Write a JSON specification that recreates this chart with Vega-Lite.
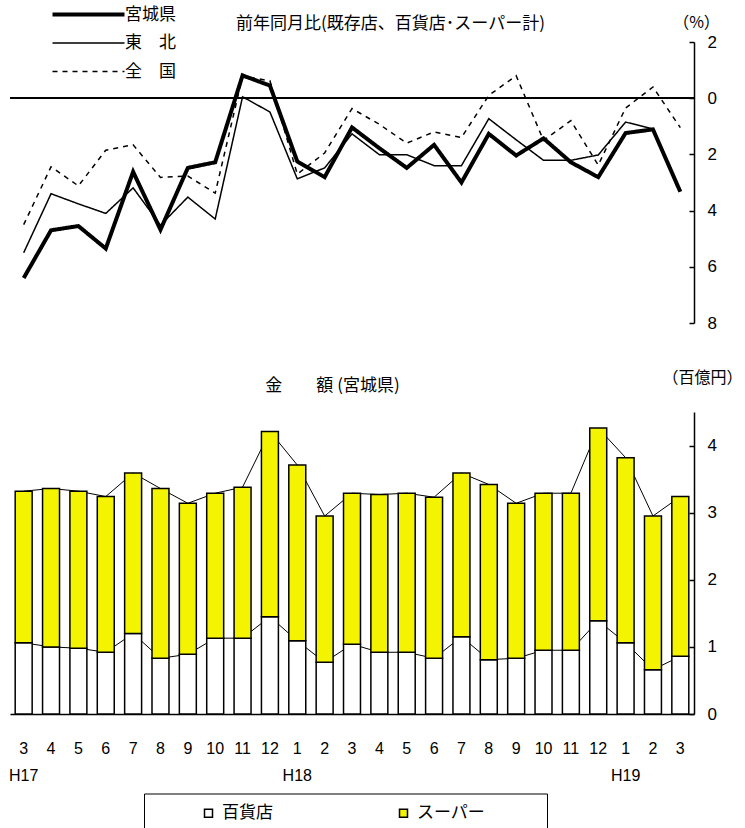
{
  "$schema": "https://vega.github.io/schema/vega-lite/v6.json",
  "padding": {"left": 8, "top": 6, "right": 0, "bottom": 0},
  "background": "white",
  "datasets": {
    "d": [
      {"k": "H17-03", "宮城県": -6.40, "東北": -5.50, "全国": -4.50, "dept": 1.06, "total": 3.32},
      {"k": "H17-04", "宮城県": -4.70, "東北": -3.40, "全国": -2.44, "dept": 1.00, "total": 3.36},
      {"k": "H17-05", "宮城県": -4.55, "東北": -3.76, "全国": -3.12, "dept": 0.98, "total": 3.32},
      {"k": "H17-06", "宮城県": -5.35, "東北": -4.10, "全国": -1.85, "dept": 0.92, "total": 3.24},
      {"k": "H17-07", "宮城県": -2.62, "東北": -3.19, "全国": -1.66, "dept": 1.20, "total": 3.59},
      {"k": "H17-08", "宮城県": -4.68, "東北": -4.52, "全国": -2.82, "dept": 0.83, "total": 3.36},
      {"k": "H17-09", "宮城県": -2.48, "東北": -3.52, "全国": -2.77, "dept": 0.89, "total": 3.14},
      {"k": "H17-10", "宮城県": -2.28, "東北": -4.30, "全国": -3.38, "dept": 1.13, "total": 3.29},
      {"k": "H17-11", "宮城県": 0.81, "東北": 0.05, "全国": 0.78, "dept": 1.13, "total": 3.38},
      {"k": "H17-12", "宮城県": 0.45, "東北": -0.49, "全国": 0.62, "dept": 1.45, "total": 4.21},
      {"k": "H18-01", "宮城県": -2.25, "東北": -2.87, "全国": -2.70, "dept": 1.09, "total": 3.71},
      {"k": "H18-02", "宮城県": -2.81, "東北": -2.48, "全国": -1.95, "dept": 0.77, "total": 2.95},
      {"k": "H18-03", "宮城県": -1.04, "東北": -1.27, "全国": -0.37, "dept": 1.04, "total": 3.29},
      {"k": "H18-04", "宮城県": -1.78, "東北": -2.01, "全国": -0.93, "dept": 0.92, "total": 3.27},
      {"k": "H18-05", "宮城県": -2.48, "東北": -2.01, "全国": -1.60, "dept": 0.92, "total": 3.29},
      {"k": "H18-06", "宮城県": -1.66, "東北": -2.40, "全国": -1.20, "dept": 0.83, "total": 3.23},
      {"k": "H18-07", "宮城県": -3.00, "東北": -2.40, "全国": -1.40, "dept": 1.15, "total": 3.59},
      {"k": "H18-08", "宮城県": -1.27, "東北": -0.73, "全国": 0.10, "dept": 0.81, "total": 3.42},
      {"k": "H18-09", "宮城県": -2.04, "東北": -1.48, "全国": 0.80, "dept": 0.83, "total": 3.14},
      {"k": "H18-10", "宮城県": -1.43, "東北": -2.21, "全国": -1.50, "dept": 0.95, "total": 3.29},
      {"k": "H18-11", "宮城県": -2.28, "東北": -2.21, "全国": -0.80, "dept": 0.95, "total": 3.29},
      {"k": "H18-12", "宮城県": -2.81, "東北": -2.02, "全国": -2.38, "dept": 1.39, "total": 4.26},
      {"k": "H19-01", "宮城県": -1.24, "東北": -0.85, "全国": -0.35, "dept": 1.06, "total": 3.82},
      {"k": "H19-02", "宮城県": -1.11, "東北": -1.09, "全国": 0.40, "dept": 0.66, "total": 2.95},
      {"k": "H19-03", "宮城県": -3.33, "東北": null, "全国": -1.05, "dept": 0.86, "total": 3.24}
    ]
  },
  "data": {"name": "d"},
  "config": {
    "view": {"stroke": null},
    "font": "Noto Sans CJK JP",
    "axis": {
      "labelFont": "Liberation Sans Narrow, Liberation Sans, Arial, sans-serif",
      "labelColor": "black",
      "domainColor": "black",
      "tickColor": "black",
      "titleColor": "black",
      "titleFont": "Noto Sans CJK JP",
      "titleFontWeight": "normal",
      "grid": false
    },
    "legend": {"labelFont": "Noto Sans CJK JP", "labelColor": "black"}
  },
  "spacing": 38,
  "vconcat": [
    {
      "width": 684,
      "height": 281,
      "layer": [
        {
          "mark": {"type": "rule", "color": "black", "strokeWidth": 1.5},
          "encoding": {
            "y": {"datum": 0, "type": "quantitative", "scale": {"domain": [-8, 2], "nice": false, "zero": false},
              "axis": {"orient": "right", "values": [2, 0, -2, -4, -6, -8], "labelExpr": "abs(datum.value)",
                "labelFontSize": 17, "tickSize": -5, "tickWidth": 1.5, "domainWidth": 1.5, "labelPadding": 18,
                "title": "（%）", "titleAngle": 0, "titleX": 2, "titleY": -20, "titleAlign": "center",
                "titleBaseline": "middle", "titleFontSize": 16}}
          }
        },
        {
          "transform": [{"fold": ["宮城県", "東北", "全国"], "as": ["series", "value"]}],
          "mark": {"type": "line", "color": "black"},
          "encoding": {
            "x": {
              "field": "k", "type": "ordinal",
              "scale": {"type": "band", "paddingInner": 0.38, "paddingOuter": 0.19},
              "axis": {"orient": "top", "labels": false, "ticks": false, "domain": false,
                "title": "前年同月比(既存店、百貨店･スーパー計)", "titleX": 380, "titleY": -18.5, "titleAngle": 0,
                "titleAlign": "center", "titleBaseline": "middle", "titleFontSize": 17}
            },
            "y": {
              "field": "value", "type": "quantitative",
              "scale": {"domain": [-8, 2], "nice": false, "zero": false},
              "axis": {"orient": "right", "values": [2, 0, -2, -4, -6, -8], "labelExpr": "abs(datum.value)",
                "labelFontSize": 17, "tickSize": -5, "tickWidth": 1.5, "domainWidth": 1.5, "labelPadding": 18,
                "title": "（%）", "titleAngle": 0, "titleX": 2, "titleY": -20, "titleAlign": "center",
                "titleBaseline": "middle", "titleFontSize": 16}
            },
            "strokeWidth": {"condition": {"test": "datum.series == '宮城県'", "value": 4}, "value": 1.5},
            "strokeDash": {
              "field": "series", "type": "nominal",
              "scale": {"domain": ["宮城県", "東北", "全国"], "range": [[1, 0], [1, 0], [5, 5]]},
              "legend": {
                "orient": "none", "legendX": 40, "legendY": -36, "title": null, "padding": 0,
                "symbolType": "M-11,0H1", "symbolSize": 144, "symbolStrokeColor": "black",
                "symbolOffset": 60, "rowPadding": 10.5, "labelOffset": -2, "labelFontSize": 17,
                "labelExpr": "datum.label == '東北' ? '東　北' : datum.label == '全国' ? '全　国' : datum.label",
                "encode": {"symbols": {"update": {"strokeWidth": {"signal": "datum.value == '宮城県' ? 4 : 1.5"}}}}
              }
            }
          }
        }
      ]
    },
    {
      "width": 684,
      "height": 302,
      "resolve": {"axis": {"x": "independent"}},
      "layer": [
        {
          "mark": {"type": "line", "color": "black", "strokeWidth": 1},
          "encoding": {
            "x": {
              "field": "k", "type": "ordinal",
              "scale": {"type": "band", "paddingInner": 0.38, "paddingOuter": 0.19},
              "axis": {"orient": "top", "labels": false, "ticks": false, "domain": false,
                "title": "金　　額 (宮城県)", "titleX": 322, "titleY": -27, "titleAngle": 0,
                "titleAlign": "center", "titleBaseline": "middle", "titleFontSize": 17}
            },
            "y": {
              "field": "dept", "type": "quantitative", "scale": {"domain": [0, 4.5], "nice": false},
              "axis": {"orient": "right", "values": [0, 1, 2, 3, 4], "labelFontSize": 17, "tickSize": -5,
                "tickWidth": 1.5, "domainWidth": 1.5, "labelPadding": 18, "title": "（百億円）", "titleAngle": 0,
                "titleX": 8, "titleY": -35, "titleAlign": "center", "titleBaseline": "middle", "titleFontSize": 16}
            }
          }
        },
        {
          "mark": {"type": "line", "color": "black", "strokeWidth": 1},
          "encoding": {
            "x": {"field": "k", "type": "ordinal", "scale": {"type": "band", "paddingInner": 0.38, "paddingOuter": 0.19}, "axis": null},
            "y": {
              "field": "total", "type": "quantitative", "scale": {"domain": [0, 4.5], "nice": false},
              "axis": {"orient": "right", "values": [0, 1, 2, 3, 4], "labelFontSize": 17, "tickSize": -5,
                "tickWidth": 1.5, "domainWidth": 1.5, "labelPadding": 18, "title": "（百億円）", "titleAngle": 0,
                "titleX": 8, "titleY": -35, "titleAlign": "center", "titleBaseline": "middle", "titleFontSize": 16}
            }
          }
        },
        {
          "mark": {"type": "bar", "stroke": "black", "strokeWidth": 1.5},
          "encoding": {
            "x": {
              "field": "k", "type": "ordinal",
              "scale": {"type": "band", "paddingInner": 0.38, "paddingOuter": 0.19},
              "axis": {"orient": "bottom", "title": null, "labelAngle": 0, "ticks": false, "domainWidth": 1.5,
                "labelFontSize": 16, "labelPadding": 26, "labelLineHeight": 27,
                "labelExpr": "(datum.value == 'H17-03' || slice(datum.value, 4) == '01') ? [toString(toNumber(slice(datum.value, 4))), slice(datum.value, 0, 3)] : toString(toNumber(slice(datum.value, 4)))"}
            },
            "y": {
              "field": "dept", "type": "quantitative", "scale": {"domain": [0, 4.5], "nice": false},
              "axis": {"orient": "right", "values": [0, 1, 2, 3, 4], "labelFontSize": 17, "tickSize": -5,
                "tickWidth": 1.5, "domainWidth": 1.5, "labelPadding": 18, "title": "（百億円）", "titleAngle": 0,
                "titleX": 8, "titleY": -35, "titleAlign": "center", "titleBaseline": "middle", "titleFontSize": 16}
            },
            "color": {
              "datum": "百貨店", "type": "nominal",
              "scale": {"domain": ["百貨店", "スーパー"], "range": ["white", "#F4F400"]},
              "legend": {
                "orient": "none", "legendX": 134, "legendY": 751.5, "direction": "horizontal", "title": null,
                "strokeColor": "black", "padding": 11, "symbolType": "square", "symbolSize": 64,
                "symbolStrokeColor": "black", "symbolStrokeWidth": 1.5, "labelFontSize": 17,
                "symbolOffset": 45, "labelOffset": 5, "columnPadding": 77,
                "labelExpr": "datum.label == 'スーパー' ? 'スーパー　　　\u200b' : datum.label"
              }
            }
          }
        },
        {
          "mark": {"type": "bar", "stroke": "black", "strokeWidth": 1.5},
          "encoding": {
            "x": {"field": "k", "type": "ordinal", "scale": {"type": "band", "paddingInner": 0.38, "paddingOuter": 0.19}, "axis": null},
            "y": {
              "field": "total", "type": "quantitative", "scale": {"domain": [0, 4.5], "nice": false},
              "axis": {"orient": "right", "values": [0, 1, 2, 3, 4], "labelFontSize": 17, "tickSize": -5,
                "tickWidth": 1.5, "domainWidth": 1.5, "labelPadding": 18, "title": "（百億円）", "titleAngle": 0,
                "titleX": 8, "titleY": -35, "titleAlign": "center", "titleBaseline": "middle", "titleFontSize": 16}
            },
            "y2": {"field": "dept"},
            "color": {"datum": "スーパー", "type": "nominal"}
          }
        }
      ]
    }
  ]
}
